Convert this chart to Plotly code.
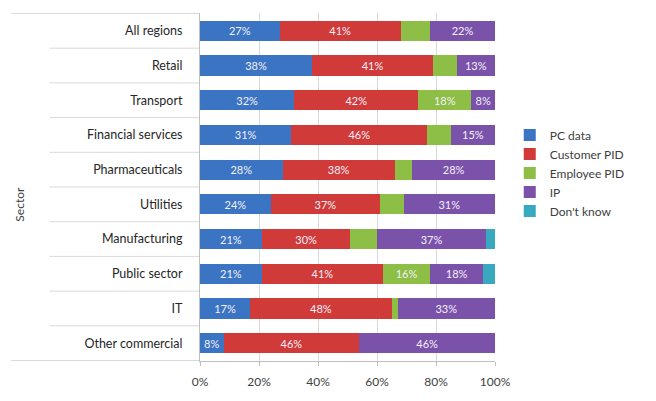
import plotly.graph_objects as go

# Share of data-loss incidents by data type, per sector (percent of each row)
sectors = ["All regions", "Retail", "Transport", "Financial services", "Pharmaceuticals",
           "Utilities", "Manufacturing", "Public sector", "IT", "Other commercial"]
pc_data = [27, 38, 32, 31, 28, 24, 21, 21, 17, 8]
customer_pid = [41, 41, 42, 46, 38, 37, 30, 41, 48, 46]
employee_pid = [10, 8, 18, 8, 6, 8, 9, 16, 2, 0]
ip = [22, 13, 8, 15, 28, 31, 37, 18, 33, 46]
dont_know = [0, 0, 0, 0, 0, 0, 3, 4, 0, 0]

x_ticks = [0, 20, 40, 60, 80, 100]
x_tick_labels = ["0%", "20%", "40%", "60%", "80%", "100%"]

series = [
    ("PC data", pc_data, "#3B74C2", 0),
    ("Customer PID", customer_pid, "#D03B3A", 0),
    ("Employee PID", employee_pid, "#8DBE45", 15),
    ("IP", ip, "#7A52AA", 0),
    ("Don't know", dont_know, "#38A9BE", 101),
]

FONT = "Lato, 'Open Sans', sans-serif"

fig = go.Figure()
for name, vals, color, min_label in series:
    labels = [f"{v}%" if v >= min_label and v > 0 else "" for v in vals]
    fig.add_trace(go.Bar(
        name=name, y=sectors, x=vals, orientation="h",
        marker=dict(color=color, line=dict(width=0)),
        text=labels, textposition="inside", insidetextanchor="middle",
        textangle=0, constraintext="none",
        textfont=dict(color="#F4F0FA", size=11, family=FONT),
        legendgroup=name, hoverinfo="x+y+name",
    ))

# Separator lines between category labels on the left
n = len(sectors)
shapes = []
for k in range(n + 1):
    y = k - 0.5
    x0 = -0.64 if k in (0, n) else -0.51
    shapes.append(dict(type="line", xref="paper", yref="y", x0=x0, x1=0,
                       y0=y, y1=y, line=dict(color="#D9D9D9", width=1), layer="below"))

fig.update_layout(
    width=656, height=401,
    margin=dict(l=200, r=161, t=13, b=31),
    barmode="stack", bargap=0.42,
    plot_bgcolor="white", paper_bgcolor="white",
    font=dict(family=FONT, size=12, color="#404040"),
    showlegend=True,
    legend=dict(x=1.05, y=0.54, xanchor="left", yanchor="middle",
                traceorder="normal", tracegroupgap=4,
                font=dict(size=12, color="#404040"), itemwidth=30),
    shapes=shapes,
    annotations=[dict(text="Sector", xref="paper", yref="paper", x=-0.645, y=0.45,
                      textangle=-90, showarrow=False,
                      font=dict(size=12, color="#404040", family=FONT))],
)
fig.update_xaxes(
    range=[0, 100], tickvals=x_ticks, ticktext=x_tick_labels,
    showgrid=True, gridcolor="#D9D9D9", gridwidth=1,
    showline=True, linecolor="#BFBFBF", ticks="outside", ticklen=4,
    tickcolor="#BFBFBF", zeroline=False, ticklabelstandoff=6,
    tickfont=dict(size=12, color="#404040"),
)
fig.update_yaxes(
    categoryorder="array", categoryarray=sectors, autorange="reversed",
    showline=True, linecolor="#BFBFBF", showgrid=False,
    ticks="", ticklabelstandoff=14, tickfont=dict(size=12.5, color="#262626"),
)

fig.write_html("out.html")
